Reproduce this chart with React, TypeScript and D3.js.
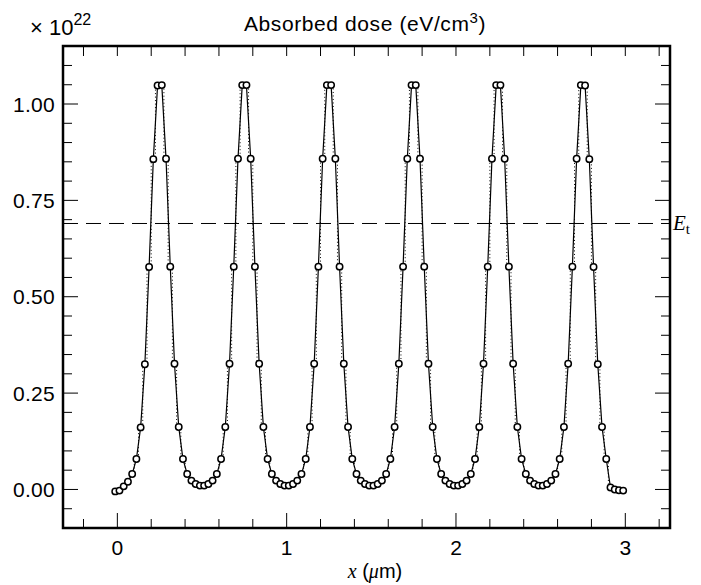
import React, { useEffect, useRef } from "react";
import * as d3 from "d3";

// sample positions (um) and absorbed dose (1e22 eV/cm3)
const xPos = [
  -0.0125, 0.0125, 0.0375, 0.0625, 0.0875, 0.1125, 0.1375, 0.1625, 0.1875, 0.2125,
  0.2375, 0.2625, 0.2875, 0.3125, 0.3375, 0.3625, 0.3875, 0.4125, 0.4375, 0.4625, 0.4875,
  0.5125, 0.5375, 0.5625, 0.5875, 0.6125, 0.6375, 0.6625, 0.6875, 0.7125, 0.7375,
  0.7625, 0.7875, 0.8125, 0.8375, 0.8625, 0.8875, 0.9125, 0.9375, 0.9625, 0.9875,
  1.0125, 1.0375, 1.0625, 1.0875, 1.1125, 1.1375, 1.1625, 1.1875, 1.2125, 1.2375,
  1.2625, 1.2875, 1.3125, 1.3375, 1.3625, 1.3875, 1.4125, 1.4375, 1.4625, 1.4875,
  1.5125, 1.5375, 1.5625, 1.5875, 1.6125, 1.6375, 1.6625, 1.6875, 1.7125, 1.7375,
  1.7625, 1.7875, 1.8125, 1.8375, 1.8625, 1.8875, 1.9125, 1.9375, 1.9625, 1.9875,
  2.0125, 2.0375, 2.0625, 2.0875, 2.1125, 2.1375, 2.1625, 2.1875, 2.2125, 2.2375,
  2.2625, 2.2875, 2.3125, 2.3375, 2.3625, 2.3875, 2.4125, 2.4375, 2.4625, 2.4875,
  2.5125, 2.5375, 2.5625, 2.5875, 2.6125, 2.6375, 2.6625, 2.6875, 2.7125, 2.7375,
  2.7625, 2.7875, 2.8125, 2.8375, 2.8625, 2.8875, 2.9125, 2.9375, 2.9625, 2.9875
];

const dose = [
  -0.005, -0.003, 0.008, 0.020, 0.040, 0.079, 0.161, 0.325, 0.577, 0.857,
  1.048, 1.049, 0.858, 0.578, 0.326, 0.162, 0.079, 0.040, 0.023, 0.014, 0.010,
  0.010, 0.014, 0.023, 0.040, 0.079, 0.162, 0.326, 0.578, 0.858, 1.049,
  1.049, 0.858, 0.578, 0.326, 0.162, 0.079, 0.040, 0.023, 0.014, 0.010,
  0.010, 0.014, 0.023, 0.040, 0.079, 0.162, 0.326, 0.578, 0.858, 1.049,
  1.049, 0.858, 0.578, 0.326, 0.162, 0.079, 0.040, 0.023, 0.014, 0.010,
  0.010, 0.014, 0.023, 0.040, 0.079, 0.162, 0.326, 0.578, 0.858, 1.049,
  1.049, 0.858, 0.578, 0.326, 0.162, 0.079, 0.040, 0.023, 0.014, 0.010,
  0.010, 0.014, 0.023, 0.040, 0.079, 0.162, 0.326, 0.578, 0.858, 1.049,
  1.049, 0.858, 0.578, 0.326, 0.162, 0.079, 0.040, 0.023, 0.014, 0.010,
  0.010, 0.014, 0.023, 0.040, 0.079, 0.162, 0.326, 0.578, 0.858, 1.049,
  1.048, 0.857, 0.577, 0.325, 0.162, 0.079, 0.005, 0.000, -0.002, -0.003
];

const thresholdDose = 0.69;

const xMajorTicks = [0, 1, 2, 3];
const xMinorTicks = [-0.2, 0.2, 0.4, 0.6, 0.8, 1.2, 1.4, 1.6, 1.8, 2.2, 2.4, 2.6, 2.8, 3.2];
const yMajorTicks = [0, 0.25, 0.5, 0.75, 1.0];
const yMinorTicks = [
  -0.05, 0.05, 0.1, 0.15, 0.2, 0.3, 0.35, 0.4, 0.45, 0.55, 0.6, 0.65, 0.7,
  0.8, 0.85, 0.9, 0.95, 1.05, 1.1
];

const SANS = "'Liberation Sans', Arial, Helvetica, sans-serif";
const SERIF = "'Liberation Serif', 'Times New Roman', serif";

export default function App() {
  const svgRef = useRef<SVGSVGElement>(null);
  const width = 701;
  const height = 585;
  const left = 63, right = 670, top = 46, bottom = 528;

  useEffect(() => {
    const svg = d3.select(svgRef.current);
    svg.selectAll("*").remove();

    const x = d3.scaleLinear().domain([-0.321, 3.264]).range([left, right]);
    const y = d3.scaleLinear().domain([-0.1, 1.1505]).range([bottom, top]);

    const pts = xPos.map((v, i) => [v, dose[i]] as [number, number]);

    const plot = svg.append("g");

    // threshold line
    plot.append("line")
      .attr("x1", left).attr("x2", right)
      .attr("y1", y(thresholdDose)).attr("y2", y(thresholdDose))
      .attr("stroke", "#000").attr("stroke-width", 1)
      .attr("stroke-dasharray", "15,8");

    // binned (dotted) curve
    plot.append("path")
      .datum(pts)
      .attr("fill", "none")
      .attr("stroke", "#000")
      .attr("stroke-width", 1)
      .attr("stroke-dasharray", "1,2.5")
      .attr("d", d3.line().x(d => x(d[0])).y(d => y(d[1])).curve(d3.curveStep));

    // simulated curve
    plot.append("path")
      .datum(pts)
      .attr("fill", "none")
      .attr("stroke", "#000")
      .attr("stroke-width", 1.2)
      .attr("d", d3.line().x(d => x(d[0])).y(d => y(d[1])));

    plot.selectAll("circle")
      .data(pts)
      .enter().append("circle")
      .attr("cx", d => x(d[0]))
      .attr("cy", d => y(d[1]))
      .attr("r", 3.2)
      .attr("fill", "#fff")
      .attr("stroke", "#000")
      .attr("stroke-width", 1.5);

    // frame ticks, pointing inward on all four sides
    const ticks = svg.append("g").attr("stroke", "#000").attr("stroke-width", 1);
    const xt = [...xMajorTicks.map(v => [v, 15]), ...xMinorTicks.map(v => [v, 9])];
    xt.forEach(([v, len]) => {
      ticks.append("line").attr("x1", x(v)).attr("x2", x(v)).attr("y1", bottom).attr("y2", bottom - len);
      ticks.append("line").attr("x1", x(v)).attr("x2", x(v)).attr("y1", top).attr("y2", top + 10);
    });
    const yt = [...yMajorTicks.map(v => [v, 15]), ...yMinorTicks.map(v => [v, 9])];
    yt.forEach(([v, len]) => {
      ticks.append("line").attr("y1", y(v)).attr("y2", y(v)).attr("x1", left).attr("x2", left + len);
      ticks.append("line").attr("y1", y(v)).attr("y2", y(v)).attr("x1", right).attr("x2", right - len);
    });

    svg.append("rect")
      .attr("x", left).attr("y", top)
      .attr("width", right - left).attr("height", bottom - top)
      .attr("fill", "none").attr("stroke", "#000").attr("stroke-width", 2.5);

    // tick labels
    svg.append("g").selectAll("text")
      .data(xMajorTicks)
      .enter().append("text")
      .attr("x", d => x(d)).attr("y", 555)
      .attr("text-anchor", "middle")
      .style("font-family", SANS).style("font-size", "21px")
      .text(d => d3.format("d")(d));

    svg.append("g").selectAll("text")
      .data(yMajorTicks)
      .enter().append("text")
      .attr("x", 55).attr("y", d => y(d) + 7.5)
      .attr("text-anchor", "end")
      .style("font-family", SANS).style("font-size", "21px")
      .style("letter-spacing", "0.3px")
      .text(d => d3.format(".2f")(d));

    // title and exponent
    const title = svg.append("text")
      .attr("x", 365).attr("y", 31)
      .attr("text-anchor", "middle")
      .style("font-family", SANS).style("font-size", "21px")
      .style("letter-spacing", "0.6px");
    title.append("tspan").text("Absorbed dose (eV/cm");
    title.append("tspan").attr("dy", -8).style("font-size", "15px").text("3");
    title.append("tspan").attr("dy", 8).text(")");

    const expo = svg.append("text")
      .attr("x", 30).attr("y", 35)
      .style("font-family", SANS).style("font-size", "22px");
    expo.append("tspan").text("\u00d7 10");
    expo.append("tspan").attr("dy", -10).style("font-size", "16px").text("22");

    // x axis label
    const xl = svg.append("text")
      .attr("x", 375).attr("y", 578)
      .attr("text-anchor", "middle")
      .style("font-family", SANS).style("font-size", "20px");
    xl.append("tspan").style("font-family", SERIF).style("font-style", "italic").text("x");
    xl.append("tspan").text(" (");
    xl.append("tspan").style("font-family", SERIF).style("font-style", "italic").text("\u03bc");
    xl.append("tspan").text("m)");

    // threshold label
    const et = svg.append("text")
      .attr("x", 673).attr("y", y(thresholdDose) + 7)
      .style("font-family", SERIF).style("font-size", "21px");
    et.append("tspan").style("font-style", "italic").text("E");
    et.append("tspan").attr("dy", 4).style("font-size", "15px").text("t");
  }, []);

  return (
    <svg
      ref={svgRef}
      width={width}
      height={height}
      style={{ position: "absolute", left: 0, top: 0, background: "#fff" }}
    />
  );
}
